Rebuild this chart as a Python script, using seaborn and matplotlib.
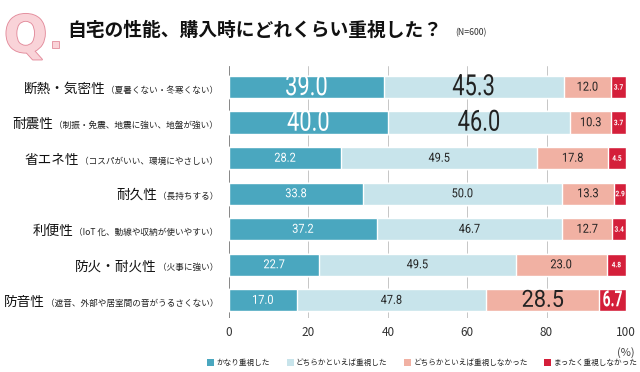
import pandas as pd
import seaborn as sns
import matplotlib.pyplot as plt
import matplotlib.patheffects as pe
from matplotlib.patches import Patch, Rectangle
from matplotlib.transforms import Affine2D

# data (N=600, %)
items = ['断熱・気密性', '耐震性', '省エネ性', '耐久性', '利便性', '防火・耐火性', '防音性']
notes = ['（夏暑くない・冬寒くない）', '（制振・免震、地震に強い、地盤が強い）',
         '（コスパがいい、環境にやさしい）', '（長持ちする）',
         '（IoT 化、動線や収納が使いやすい）', '（火事に強い）',
         '（遮音、外部や居室間の音がうるさくない）']
very = [39.0, 40.0, 28.2, 33.8, 37.2, 22.7, 17.0]
somewhat = [45.3, 46.0, 49.5, 50.0, 46.7, 49.5, 47.8]
not_much = [12.0, 10.3, 17.8, 13.3, 12.7, 23.0, 28.5]
not_at_all = [3.7, 3.7, 4.5, 2.9, 3.4, 4.8, 6.7]
answers = ['かなり重視した', 'どちらかといえば重視した',
           'どちらかといえば重視しなかった', 'まったく重視しなかった']
colors = ['#4aa7bf', '#c8e4eb', '#f1b1a3', '#d41f3a']
txt_colors = ['white', '#222222', '#222222', 'white']
# highlighted numbers: (row, series) -> (size, squeeze, weight)
big = {(0, 0): (21, 0.75, 'normal'), (0, 1): (21, 0.75, 'normal'),
       (1, 0): (21, 0.75, 'normal'), (1, 1): (21, 0.75, 'normal'),
       (6, 2): (17, 0.92, 'normal'), (6, 3): (16, 0.62, 'bold')}


class Squeeze(pe.AbstractPathEffect):
    """narrow the text horizontally around its centre (condensed look)"""

    def __init__(self, sx=0.85):
        super().__init__()
        self.sx = sx

    def draw_path(self, renderer, gc, tpath, affine, rgbFace=None):
        xs = affine.transform(tpath.vertices)[:, 0]
        if len(xs):
            cx = (xs.min() + xs.max()) / 2
            affine = affine + Affine2D().translate(-cx, 0).scale(self.sx, 1).translate(cx, 0)
        renderer.draw_path(gc, tpath, affine, rgbFace)


sns.set_style('white')
plt.rcParams['font.family'] = ['Noto Sans CJK JP', 'DejaVu Sans']

df = pd.DataFrame({'item': items, answers[0]: very, answers[1]: somewhat,
                   answers[2]: not_much, answers[3]: not_at_all})
cum = df[answers].cumsum(axis=1)

fig = plt.figure(figsize=(6.4, 3.72), dpi=100)
ax = fig.add_axes([0.358, 0.145, 0.62, 0.678])

# stacked bars: draw cumulative totals from the back to the front
for i in range(3, -1, -1):
    sns.barplot(x=cum[answers[i]], y=df['item'], color=colors[i], orient='h',
                width=0.63, saturation=1, ax=ax, zorder=2)

for r in range(len(items)):
    for i, a in enumerate(answers):
        v = df.loc[r, a]
        mid = cum.loc[r, a] - v / 2
        if (r, i) in big:
            fs, sx, fw = big[(r, i)]
        elif i == 3:
            fs, sx, fw = 5.5, 0.85, 'bold'
        else:
            fs, sx, fw = 9, 0.88, 'normal'
        ax.text(mid, r, f'{v:.1f}', ha='center', va='center', fontsize=fs,
                fontweight=fw, color=txt_colors[i], family='Roboto', zorder=3,
                path_effects=[Squeeze(sx)])

ax.set_xlim(0, 100)
ax.set_ylim(6.5, -0.6)
ax.set_xticks([0, 20, 40, 60, 80, 100])
ax.tick_params(axis='x', length=0, labelsize=8.5, labelcolor='#333333', pad=6)
ax.set_yticks([])
ax.set_xlabel('')
ax.set_ylabel('')
ax.grid(axis='x', color='#bdbdbd', lw=0.6, zorder=0)
ax.set_axisbelow(True)
for s in ax.spines.values():
    s.set_visible(False)
ax.axvline(0, color='#888888', lw=0.7, zorder=1)

ax.text(100, -0.115, '(%)', transform=ax.get_xaxis_transform(), ha='center',
        va='top', fontsize=8, color='#444444')

# category labels: large name + small note
for r in range(len(items)):
    note = ax.text(-0.028, r + 0.08, notes[r], transform=ax.get_yaxis_transform(),
                   ha='right', va='center', fontsize=6.2, color='#222222')
    ax.annotate(items[r], xy=(0, 0.5), xycoords=note, xytext=(-0.5, 1.0),
                textcoords='offset points', ha='right', va='center',
                fontsize=9.8, color='#111111')

# title with the "Q." mark
fig.text(0.006, 0.965, 'Q', fontsize=37, fontweight='bold', color='#f9d3d8',
         ha='left', va='top', family='DejaVu Sans',
         path_effects=[pe.withStroke(linewidth=1.3, foreground='#e38c9c')])
fig.patches.append(Rectangle((0.081, 0.872), 0.011, 0.019, transform=fig.transFigure,
                             facecolor='#f9d3d8', edgecolor='#e38c9c', lw=0.6))
fig.text(0.105, 0.918, '自宅の性能、購入時にどれくらい重視した？', fontsize=13.5,
         fontweight='bold', color='#111111', ha='left', va='center')
fig.text(0.712, 0.912, '(N=600)', fontsize=6.3, color='#333333', ha='left', va='center')

handles = [Patch(facecolor=c, edgecolor='none') for c in colors]
fig.legend(handles, answers, loc='lower center', bbox_to_anchor=(0.66, -0.005),
           ncol=4, frameon=False, fontsize=5.5, handlelength=0.9, handleheight=0.9,
           handletextpad=0.3, columnspacing=2.2)

fig.savefig('out.png', dpi=100)
